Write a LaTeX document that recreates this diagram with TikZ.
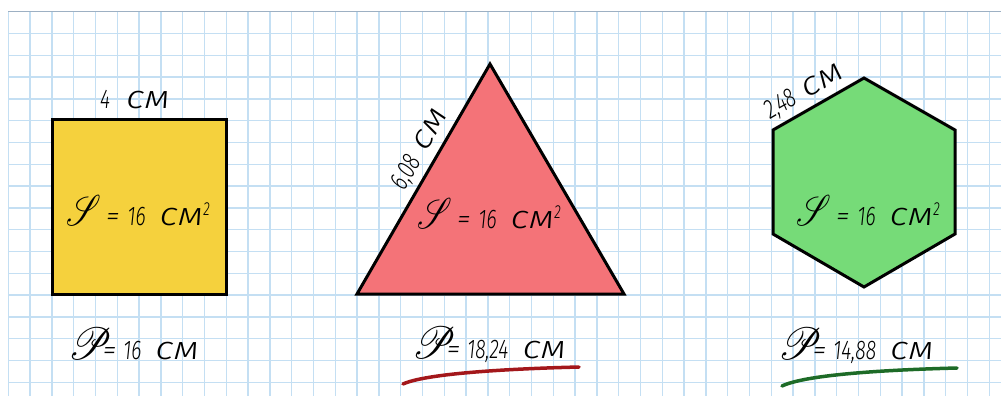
\documentclass[tikz,border=0pt]{standalone}
\usepackage{fontspec}
\usepackage{mathrsfs}
\usetikzlibrary{calc}
\newfontfamily\hand{Fira Sans Light Italic}[FakeStretch=0.72]
\definecolor{sqfill}{HTML}{F5D13D}
\definecolor{trifill}{HTML}{F47378}
\definecolor{hexfill}{HTML}{76DB78}
\definecolor{gridc}{HTML}{C4DFF3}
\definecolor{edgec}{HTML}{9DB0C3}
\definecolor{redline}{HTML}{A3171B}
\definecolor{grnline}{HTML}{1D6B27}
\newcommand{\bigS}{{\fontsize{10}{10}\selectfont\scalebox{3.3}[4.3]{$\mathscr{S}$}}}
\newcommand{\bigP}{{\fontsize{10}{10}\selectfont\scalebox{4}[4.5]{$\mathscr{P}$}}}
\newcommand{\smunit}{\scalebox{2}[1.2]{см}}
\newcommand{\eqs}{\scalebox{1.4}[1]{=}}
\newcommand{\cmsq}{\smunit\textsuperscript{2}}
\tikzset{
  cell/.style={gridc, line width=1.3pt},
  figline/.style={draw=black, line width=3pt, line join=miter},
  hand/.style={font=\hand\fontsize{27}{27}\selectfont, inner sep=0pt, anchor=base west},
  side/.style={font=\hand\fontsize{27}{27}\selectfont, inner sep=6pt},
  under/.style={line width=3.5pt, line cap=round},
}

\begin{document}
\begin{tikzpicture}[x=1pt,y=-1pt]
 \useasboundingbox (0,0) rectangle (1001,396);
 % squared paper
 \foreach \k in {0,...,45}
  \draw[cell] ({8.3+21.8*\k},11.7) -- ({8.3+21.8*\k},396);
 \foreach \k in {0,...,17}
  \draw[cell] (8.3,{11.7+21.8*\k}) -- (1001,{11.7+21.8*\k});
 \draw[edgec, line width=1.3pt] (8.3,11.7) -- (1001,11.7);
 % (a) square
 \draw[figline, fill=sqfill] (52,119) rectangle (226,294);
 \node[hand] (sqside) at (100,108) {4\hspace{16pt}\smunit};
 \node[hand] (sqarea) at (66,225) {\bigS\hspace{5pt}\eqs\hspace{8pt}16\hspace{14pt}\cmsq};
 \node[hand] (sqper) at (68,359) {\bigP\hspace{-9pt}\eqs\hspace{7pt}16\hspace{14pt}\smunit};
 % (b) triangle
 \coordinate (triL) at (357,294);
 \coordinate (triT) at (490,64);
 \coordinate (triR) at (624,294);
 \draw[figline, fill=trifill] (triL) -- (triT) -- (triR) -- cycle;
 \path (triL) -- node[side, pos=0.59, sloped, above] (triside) {6,08\hspace{10pt}\smunit} (triT);
 \node[hand] (triarea) at (417,228) {\bigS\hspace{5pt}\eqs\hspace{8pt}16\hspace{14pt}\cmsq};
 \node[hand] (triper) at (412,358) {\bigP\hspace{-9pt}\eqs\hspace{7pt}18,24\hspace{14pt}\smunit};
 \draw[under, redline] (403,384) .. controls (425,374) and (500,369) .. (579,367);
 % (c) hexagon
 \coordinate (hexT) at (864,78);
 \coordinate (hexUR) at (955,130);
 \coordinate (hexLR) at (955,234);
 \coordinate (hexB) at (864,287);
 \coordinate (hexLL) at (773,234);
 \coordinate (hexUL) at (773,130);
 \draw[figline, fill=hexfill] (hexT) -- (hexUR) -- (hexLR) -- (hexB) -- (hexLL) -- (hexUL) -- cycle;
 \path (hexUL) -- node[side, pos=0.44, sloped, above] (hexside) {2,48\hspace{10pt}\smunit} (hexT);
 \node[hand] (hexarea) at (796,225) {\bigS\hspace{5pt}\eqs\hspace{8pt}16\hspace{14pt}\cmsq};
 \node[hand] (hexper) at (778,359) {\bigP\hspace{-9pt}\eqs\hspace{7pt}14,88\hspace{14pt}\smunit};
 \draw[under, grnline] (782,386) .. controls (805,375) and (880,370) .. (957,368);
\end{tikzpicture}
\end{document}
